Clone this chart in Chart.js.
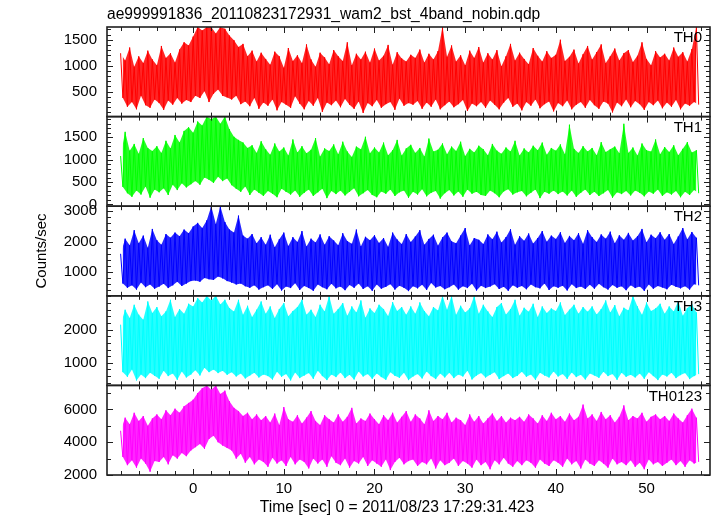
<!DOCTYPE html>
<html>
<head>
<meta charset="utf-8">
<script src="https://cdn.jsdelivr.net/npm/chart.js@4.4.1/dist/chart.umd.min.js"></script>
<style>
  body { margin: 0; background: #fff; }
</style>
</head>
<body>
<canvas id="lcChart" width="717" height="516"></canvas>
<script>
const title = "ae999991836_20110823172931_wam2_bst_4band_nobin.qdp";
const xTitle = "Time [sec] 0 = 2011/08/23 17:29:31.423";
const yTitle = "Counts/sec";

// time bins: first bin and bin width (sec)
const tStart = -8;
const tStep = 0.25;

const panelNames = ["TH0", "TH1", "TH2", "TH3", "TH0123"];
const panelColors = ["#ff0000", "#00ff00", "#0000ff", "#00ffff", "#ff00ff"];
const panelTints = ["rgba(255,0,0,0.85)", "rgba(0,255,0,0.85)", "rgba(0,0,255,0.85)",
  "rgba(0,255,255,0.85)", "rgba(255,0,255,0.85)"];
const yMin = [20, -40, 215, 320, 2000];
const yMax = [1745, 1960, 3170, 3020, 7470];
const yMinorStep = [100, 100, 200, 200, 1000];
const yTickLabels = [
  [500, 1000, 1500],
  [0, 500, 1000, 1500],
  [1000, 2000, 3000],
  [1000, 2000],
  [2000, 4000, 6000]
];
const xTickLabels = [0, 10, 20, 30, 40, 50];

// counts/sec (alternating highs and lows of the noise)
const th0 = [
  1240, 380, 1100, 210, 1350, 300, 980, 160, 1180, 420, 1050, 240, 1290, 190, 1120, 350,
  1010, 280, 1380, 150, 1150, 330, 1240, 250, 1060, 380, 1310, 270, 1450, 340, 1390, 300,
  1560, 420, 1745, 380, 1680, 510, 1745, 300, 1745, 460, 1620, 540, 1745, 420, 1710, 390,
  1580, 350, 1490, 420, 1360, 260, 1420, 310, 1180, 220, 1290, 380, 1080, 170, 1250, 290,
  1130, 230, 1020, 350, 1270, 140, 1180, 300, 960, 250, 1340, 190, 1090, 410, 1200, 270,
  1050, 160, 1410, 320, 1120, 230, 980, 380, 1250, 110, 1160, 290, 1030, 240, 1300, 330,
  1180, 200, 1090, 360, 1450, 250, 1010, 170, 1230, 310, 1120, 90, 1270, 280, 1060, 220,
  1330, 340, 1100, 190, 1190, 260, 1400, 300, 1020, 150, 1260, 370, 1140, 230, 1080, 280,
  1210, 250, 1150, 320, 1310, 170, 1060, 290, 1230, 210, 1120, 350, 1280, 160, 1745, 240,
  1170, 310, 1390, 200, 1080, 260, 1200, 340, 1010, 130, 1290, 270, 1150, 220, 1360, 300,
  1060, 190, 1240, 330, 1120, 250, 1300, 160, 990, 290, 1180, 380, 1420, 210, 1100, 270,
  1250, 140, 1130, 300, 1030, 230, 1340, 350, 1190, 180, 1080, 260, 1280, 310, 1150, 120,
  1210, 280, 1500, 220, 1090, 330, 1170, 160, 1310, 250, 1040, 300, 1220, 190, 1380, 340,
  1120, 240, 1260, 170, 1410, 310, 1050, 270, 1180, 100, 1330, 290, 1100, 220, 1240, 350,
  1300, 200, 1070, 320, 1190, 260, 1450, 150, 1130, 300, 1010, 240, 1280, 330, 1160, 180,
  1230, 290, 1100, 210, 1350, 340, 1170, 160, 1260, 270, 1080, 230, 1320, 300, 1745, 250
];
const th1 = [
  1080, 390, 1620, 250, 1200, 170, 1350, 310, 1130, 220, 1480, 400, 1260, 150, 1190, 330,
  1300, 270, 1150, 360, 1420, 210, 1250, 440, 1550, 320, 1380, 470, 1640, 380, 1720, 450,
  1600, 520, 1850, 440, 1760, 600, 1960, 550, 1900, 480, 1960, 620, 1800, 520, 1960, 580,
  1680, 430, 1510, 350, 1440, 280, 1380, 400, 1260, 210, 1320, 330, 1150, 260, 1410, 190,
  1230, 300, 1110, 240, 1360, 160, 1180, 350, 1270, 280, 1090, 220, 1450, 310, 1160, 170,
  1300, 260, 1140, 330, 1220, 190, 1480, 270, 1070, 350, 1250, 140, 1190, 300, 1340, 230,
  1120, 310, 1400, 200, 1180, 280, 1060, 360, 1290, 180, 1230, 250, 1510, 320, 1140, 210,
  1270, 160, 1160, 290, 1380, 240, 1100, 330, 1210, 190, 1440, 270, 1090, 310, 1250, 150,
  1330, 280, 1150, 220, 1260, 340, 1070, 180, 1470, 260, 1180, 300, 1220, 130, 1360, 250,
  1120, 320, 1290, 200, 1190, 290, 1400, 170, 1080, 330, 1240, 240, 1160, 280, 1310, 210,
  1230, 190, 1100, 310, 1350, 250, 1200, 160, 1130, 290, 1270, 340, 1180, 220, 1420, 270,
  1090, 300, 1250, 180, 1160, 260, 1310, 330, 1210, 140, 1380, 280, 1110, 240, 1260, 310,
  1200, 230, 1340, 290, 1120, 200, 1780, 310, 1240, 170, 1150, 260, 1300, 330, 1180, 210,
  1260, 280, 1100, 190, 1390, 250, 1170, 320, 1230, 150, 1290, 270, 1140, 230, 1800, 300,
  1150, 200, 1270, 310, 1090, 260, 1360, 180, 1210, 290, 1180, 240, 1450, 330, 1120, 190,
  1280, 270, 1170, 220, 1320, 300, 1100, 160, 1240, 280, 1390, 210, 1160, 320, 1210, 250
];
const th2 = [
  1600, 620, 2100, 480, 1880, 560, 2380, 420, 1950, 650, 2200, 500, 1800, 590, 2420, 450,
  2050, 520, 1900, 610, 2250, 470, 2130, 560, 2300, 680, 2180, 540, 2400, 620, 2280, 700,
  2500, 720, 2620, 680, 2450, 800, 2700, 760, 3170, 740, 2580, 850, 3170, 790, 2650, 700,
  2400, 650, 2300, 590, 2860, 620, 2200, 530, 2100, 480, 2250, 560, 1950, 420, 2150, 500,
  1900, 560, 2230, 440, 1820, 600, 2080, 390, 2300, 520, 1860, 470, 2150, 630, 1990, 410,
  2350, 540, 1840, 470, 2100, 380, 1970, 590, 2240, 500, 1900, 430, 2180, 610, 2040, 460,
  1880, 520, 2280, 400, 2020, 570, 1930, 480, 2400, 620, 1850, 440, 2160, 530, 2050, 380,
  2210, 590, 1960, 450, 2120, 510, 1830, 600, 2300, 420, 2070, 550, 1920, 480, 2250, 370,
  1990, 530, 2170, 460, 2380, 580, 1900, 410, 2090, 640, 2230, 490, 1870, 540, 2140, 430,
  2300, 500, 2010, 590, 1950, 420, 2200, 530, 2450, 470, 1880, 610, 2120, 390, 2060, 550,
  1920, 470, 2240, 520, 2080, 600, 2330, 440, 1970, 510, 2150, 380, 2410, 560, 1900, 480,
  2180, 540, 2030, 430, 2270, 590, 1940, 500, 2120, 460, 2350, 620, 2000, 410, 2200, 530,
  2090, 480, 2310, 550, 1960, 390, 2190, 600, 2050, 470, 2280, 520, 1930, 440, 2380, 580,
  2150, 450, 1990, 610, 2240, 500, 2100, 420, 2330, 570, 1950, 480, 2210, 530, 2060, 400,
  2290, 560, 2040, 470, 2180, 520, 2420, 380, 1980, 590, 2230, 450, 2110, 540, 2310, 490,
  2060, 430, 2250, 580, 1920, 510, 2170, 460, 2450, 530, 2080, 420, 2320, 600, 2130, 560
];
const th3 = [
  2150, 720, 2600, 580, 2350, 800, 2750, 470, 2450, 650, 2300, 540, 2850, 700, 2500, 610,
  2680, 520, 2400, 760, 2550, 600, 2900, 680, 2380, 490, 2620, 740, 2480, 560, 2780, 650,
  2700, 780, 2950, 620, 2820, 850, 3020, 720, 2880, 800, 3020, 690, 2760, 760, 2900, 640,
  2650, 720, 2550, 590, 2900, 680, 2450, 530, 2720, 620, 2380, 700, 2600, 560, 2850, 650,
  2480, 600, 2700, 500, 2350, 730, 2620, 580, 2800, 660, 2400, 470, 2560, 710, 2680, 540,
  2900, 620, 2450, 690, 2600, 520, 2380, 760, 2750, 600, 2550, 480, 3020, 650, 2480, 570,
  2620, 710, 2800, 540, 2420, 640, 2700, 500, 2520, 740, 2880, 590, 2360, 660, 2640, 520,
  2500, 680, 2750, 570, 2620, 490, 2410, 720, 2830, 610, 2560, 550, 2680, 700, 2450, 480,
  2700, 590, 2480, 660, 2820, 530, 2560, 740, 2400, 600, 2680, 510, 2580, 680, 3020, 560,
  2600, 700, 3020, 540, 2450, 650, 2720, 590, 2520, 760, 2640, 500, 3020, 620, 2480, 690,
  2750, 560, 2550, 640, 2380, 720, 2680, 510, 2800, 600, 2460, 680, 2620, 540, 2900, 610,
  2420, 730, 2660, 580, 2540, 650, 2780, 490, 2380, 700, 2700, 620, 2500, 560, 2640, 740,
  2560, 590, 2820, 660, 2440, 520, 2600, 710, 2750, 570, 2480, 640, 2680, 500, 2540, 680,
  2700, 620, 2460, 550, 2620, 730, 2880, 600, 2520, 660, 2740, 490, 2400, 700, 2660, 580,
  2580, 640, 3020, 560, 2700, 680, 2450, 520, 2820, 720, 2560, 600, 2640, 480, 2780, 650,
  2480, 590, 2700, 700, 2550, 540, 2860, 630, 2420, 690, 2650, 510, 2760, 600, 2520, 660
];
const th0123 = [
  4700, 3100, 5500, 2600, 5100, 2900, 5800, 2450, 5300, 3000, 5600, 2700, 5000, 2200, 5450, 2850,
  5700, 2800, 5400, 3100, 5950, 2650, 5650, 3200, 6050, 3000, 5800, 3350, 6200, 3150, 6400, 3500,
  6600, 3700, 7000, 3900, 7300, 3600, 7470, 4200, 7200, 4400, 7470, 4000, 6950, 3800, 7150, 3650,
  6500, 3500, 6100, 3000, 5900, 3300, 5600, 2750, 5800, 3100, 5400, 2650, 5700, 2950, 5350, 2800,
  5600, 2500, 5200, 3050, 5750, 2700, 5050, 2900, 6150, 2550, 5400, 3100, 5250, 2650, 5650, 2950,
  5150, 2800, 5500, 2400, 5900, 3000, 5300, 2700, 5050, 2950, 5650, 2500, 5400, 3150, 5200, 2750,
  5700, 2600, 5250, 3000, 5550, 2450, 6100, 2850, 5150, 2700, 5450, 3100, 5300, 2550, 5750, 2900,
  5400, 2700, 5100, 2500, 5650, 2950, 5350, 2300, 5800, 2800, 5200, 3050, 5550, 2650, 5900, 2850,
  5250, 2950, 5700, 2550, 5450, 2800, 5100, 2650, 5950, 3000, 5300, 2400, 5600, 2900, 5400, 2600,
  5800, 2750, 5200, 3000, 5500, 2550, 5350, 2850, 5050, 2700, 5700, 2450, 5250, 2950, 5600, 2600,
  5150, 2800, 5450, 2350, 5750, 2900, 5300, 2650, 5600, 3050, 5200, 2700, 5500, 2500, 5350, 2850,
  5550, 2600, 5250, 2900, 5700, 2750, 5450, 2450, 5150, 2950, 5650, 2700, 5300, 2550, 5800, 2900,
  5400, 2750, 5600, 2500, 5250, 3000, 5750, 2650, 5350, 2850, 5550, 2400, 6300, 2950, 5450, 2700,
  5700, 2550, 5300, 2900, 5850, 2700, 5400, 2450, 5650, 3000, 5200, 2650, 5550, 2800, 6250, 2600,
  5350, 2900, 5600, 2500, 5450, 2750, 5800, 2350, 5250, 2950, 5550, 2650, 5700, 2800, 5400, 2550,
  5600, 2750, 5300, 2950, 5750, 2600, 5450, 2850, 5200, 2500, 5650, 2900, 6050, 2700, 5500, 2800
];

const series = [th0, th1, th2, th3, th0123];

function toPoints(values) {
  return values.map((v, i) => ({ x: tStart + i * tStep, y: v }));
}

const fontFamily = '"Liberation Sans", Arial, Helvetica, sans-serif';
const frameColor = "#202020";

// qdp style frames: inward ticks on all four sides, labels outside
const qdpFrame = {
  id: "qdpFrame",
  afterDatasetsDraw(chart) {
    const ctx = chart.ctx;
    const area = chart.chartArea;
    const xs = chart.scales.x;
    ctx.save();
    ctx.strokeStyle = frameColor;
    ctx.fillStyle = "#000";
    ctx.font = "15px " + fontFamily;

    panelNames.forEach((name, i) => {
      const ys = chart.scales["y" + i];
      const top = ys.top;
      const bottom = ys.bottom;

      ctx.lineWidth = 1;
      ctx.beginPath();
      for (let t = -8; t <= 56; t += 2) {
        const px = Math.round(xs.getPixelForValue(t)) + 0.5;
        const len = t % 10 === 0 ? 6 : 4;
        ctx.moveTo(px, top); ctx.lineTo(px, top + len);
        ctx.moveTo(px, bottom); ctx.lineTo(px, bottom - len);
      }
      const step = yMinorStep[i];
      for (let v = Math.ceil(yMin[i] / step) * step; v <= yMax[i]; v += step) {
        const py = Math.round(ys.getPixelForValue(v)) + 0.5;
        const len = yTickLabels[i].includes(v) ? 6 : 4;
        ctx.moveTo(area.left, py); ctx.lineTo(area.left + len, py);
        ctx.moveTo(area.right, py); ctx.lineTo(area.right - len, py);
      }
      ctx.stroke();

      ctx.lineWidth = 1.6;
      ctx.strokeRect(area.left, top, area.right - area.left, bottom - top);

      ctx.textAlign = "right";
      ctx.textBaseline = "middle";
      yTickLabels[i].forEach((v) => {
        ctx.fillText(String(v), area.left - 10, ys.getPixelForValue(v));
      });
      ctx.fillText(name, area.right - 8, top + 11);
    });

    ctx.textAlign = "center";
    ctx.textBaseline = "middle";
    xTickLabels.forEach((t) => {
      ctx.fillText(String(t), xs.getPixelForValue(t), area.bottom + 14);
    });
    ctx.font = "15.6px " + fontFamily;
    ctx.fillText(xTitle, 397, area.bottom + 33);

    ctx.textAlign = "left";
    ctx.fillText(title, area.left, 15);

    ctx.font = "15px " + fontFamily;
    ctx.translate(42, (area.top + area.bottom) / 2);
    ctx.rotate(-Math.PI / 2);
    ctx.textAlign = "center";
    ctx.fillText(yTitle, 0, 0);
    ctx.restore();
  }
};

const scales = {
  x: {
    type: "linear",
    position: "bottom",
    min: -9.5,
    max: 57,
    display: false
  }
};
panelNames.forEach((name, i) => {
  scales["y" + i] = {
    type: "linear",
    position: "left",
    stack: "panels",
    stackWeight: 1,
    weight: 5 - i,
    min: yMin[i],
    max: yMax[i],
    ticks: { display: false },
    grid: { display: false, drawTicks: false },
    border: { display: false }
  };
});

// each panel: tinted band between the highs and the lows, then the light curve on top
const datasets = [];
series.forEach((values, i) => {
  const pts = toPoints(values);
  datasets.push({
    label: panelNames[i] + " highs",
    data: pts.filter((p, k) => k % 2 === 0),
    yAxisID: "y" + i,
    borderWidth: 0,
    pointRadius: 0,
    backgroundColor: panelTints[i],
    fill: "+1",
    order: 2,
    clip: 0
  });
  datasets.push({
    label: panelNames[i] + " lows",
    data: pts.filter((p, k) => k % 2 === 1),
    yAxisID: "y" + i,
    borderWidth: 0,
    pointRadius: 0,
    fill: false,
    order: 2,
    clip: 0
  });
  datasets.push({
    label: panelNames[i],
    data: pts,
    yAxisID: "y" + i,
    borderColor: panelColors[i],
    borderWidth: 1,
    borderJoinStyle: "bevel",
    pointRadius: 0,
    tension: 0,
    fill: false,
    order: 1,
    clip: 0
  });
});

new Chart(document.getElementById("lcChart").getContext("2d"), {
  type: "line",
  data: { datasets },
  options: {
    responsive: false,
    animation: false,
    events: [],
    layout: { padding: { left: 107, right: 7, top: 27, bottom: 41 } },
    plugins: { legend: { display: false }, tooltip: { enabled: false } },
    scales
  },
  plugins: [qdpFrame]
});
</script>
</body>
</html>
